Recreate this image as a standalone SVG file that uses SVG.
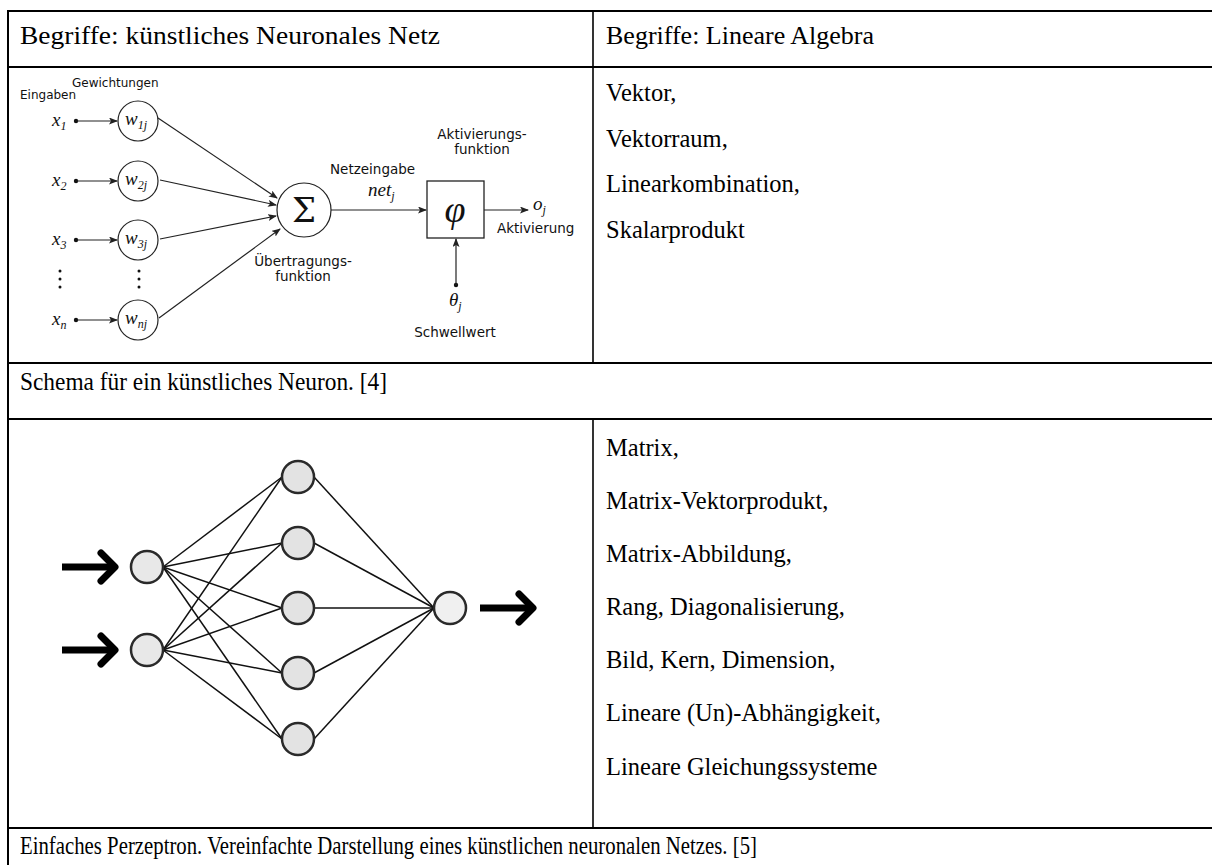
<svg xmlns="http://www.w3.org/2000/svg" width="1212" height="865" viewBox="0 0 1212 865">
<style>
.tbl{stroke:#000;stroke-width:2;fill:none}
.div{stroke:#000;stroke-width:1.6;fill:none}
.t{font-family:"Liberation Serif","Times New Roman",serif;font-size:24.5px;fill:#000}
.h{font-family:"Liberation Serif","Times New Roman",serif;font-size:26px;fill:#000}
.lbl{font-family:"DejaVu Sans",sans-serif;font-size:13.5px;fill:#111}
.lbs{font-family:"DejaVu Sans",sans-serif;font-size:12px;fill:#111}
.m{font-family:"Liberation Serif","Times New Roman",serif;font-style:italic;font-size:19px;fill:#111}
.sub{font-size:12px}
.ln{stroke:#222;stroke-width:1.2;fill:none}
.nl{stroke:#111;stroke-width:1.5;fill:none}
.node{stroke:#2a2a2a;stroke-width:2.5}
.big{stroke:#000;stroke-width:7;fill:none}
</style>
<defs>
<marker id="ah" markerWidth="9" markerHeight="7" refX="8" refY="3.5" orient="auto" markerUnits="userSpaceOnUse">
<path d="M0,0 L9,3.5 L0,7 L2,3.5 z" fill="#222"/>
</marker>
</defs>
<rect width="1212" height="865" fill="#fff"/>

<g id="table">
<line class="tbl" x1="8" y1="11" x2="1212" y2="11"/>
<line class="tbl" x1="8" y1="67" x2="1212" y2="67"/>
<line class="tbl" x1="8" y1="363" x2="1212" y2="363"/>
<line class="tbl" x1="8" y1="419" x2="1212" y2="419"/>
<line class="tbl" x1="8" y1="828" x2="1212" y2="828"/>
<line class="tbl" x1="8" y1="10" x2="8" y2="865"/>
<line class="div" x1="593" y1="11" x2="593" y2="363"/>
<line class="div" x1="593" y1="419" x2="593" y2="828"/>
</g>

<g id="header-left"><text class="h" x="20" y="44" textLength="420" lengthAdjust="spacingAndGlyphs">Begriffe: künstliches Neuronales Netz</text></g>
<g id="header-right"><text class="h" x="606" y="44">Begriffe: Lineare Algebra</text></g>

<g id="terms-1">
<text class="t" x="606" y="101">Vektor,</text>
<text class="t" x="606" y="146.5">Vektorraum,</text>
<text class="t" x="606" y="192">Linearkombination,</text>
<text class="t" x="606" y="237.5">Skalarprodukt</text>
</g>

<g id="caption-1"><text class="t" x="20" y="390" textLength="367" lengthAdjust="spacingAndGlyphs">Schema für ein künstliches Neuron. [4]</text></g>

<g id="terms-2">
<text class="t" x="606" y="456">Matrix,</text>
<text class="t" x="606" y="509">Matrix-Vektorprodukt,</text>
<text class="t" x="606" y="562">Matrix-Abbildung,</text>
<text class="t" x="606" y="615">Rang, Diagonalisierung,</text>
<text class="t" x="606" y="668">Bild, Kern, Dimension,</text>
<text class="t" x="606" y="721">Lineare (Un)-Abhängigkeit,</text>
<text class="t" x="606" y="775">Lineare Gleichungssysteme</text>
</g>

<g id="caption-2"><text class="t" x="20" y="854" textLength="737" lengthAdjust="spacingAndGlyphs">Einfaches Perzeptron. Vereinfachte Darstellung eines künstlichen neuronalen Netzes. [5]</text></g>

<g id="neuron-labels">
<text class="lbs" x="72" y="87">Gewichtungen</text>
<text class="lbs" x="20" y="99">Eingaben</text>
<text class="lbl" x="330" y="174">Netzeingabe</text>
<text class="lbl" x="482" y="139" text-anchor="middle">Aktivierungs-</text>
<text class="lbl" x="482" y="153.5" text-anchor="middle">funktion</text>
<text class="lbl" x="497" y="233">Aktivierung</text>
<text class="lbl" x="303" y="266" text-anchor="middle">Übertragungs-</text>
<text class="lbl" x="303" y="280.5" text-anchor="middle">funktion</text>
<text class="lbl" x="455" y="337" text-anchor="middle">Schwellwert</text>
</g>

<g id="inputs">
<text class="m" x="52" y="126">x<tspan class="sub" dy="4">1</tspan></text>
<text class="m" x="52" y="186">x<tspan class="sub" dy="4">2</tspan></text>
<text class="m" x="52" y="245">x<tspan class="sub" dy="4">3</tspan></text>
<text class="m" x="52" y="325">x<tspan class="sub" dy="4">n</tspan></text>
<circle cx="76" cy="121" r="2.2" fill="#111"/>
<circle cx="76" cy="181" r="2.2" fill="#111"/>
<circle cx="76" cy="240" r="2.2" fill="#111"/>
<circle cx="76" cy="320" r="2.2" fill="#111"/>
<circle cx="60" cy="271" r="1.5" fill="#111"/>
<circle cx="60" cy="279" r="1.5" fill="#111"/>
<circle cx="60" cy="287" r="1.5" fill="#111"/>
<circle cx="139" cy="271" r="1.5" fill="#111"/>
<circle cx="139" cy="279" r="1.5" fill="#111"/>
<circle cx="139" cy="287" r="1.5" fill="#111"/>
</g>

<g id="weights">
<circle cx="138" cy="121" r="20" fill="#fff" stroke="#222" stroke-width="1.2"/>
<circle cx="138" cy="181" r="20" fill="#fff" stroke="#222" stroke-width="1.2"/>
<circle cx="138" cy="240" r="20" fill="#fff" stroke="#222" stroke-width="1.2"/>
<circle cx="138" cy="320" r="20" fill="#fff" stroke="#222" stroke-width="1.2"/>
<text class="m" x="125" y="125">w<tspan class="sub" dy="4">1j</tspan></text>
<text class="m" x="125" y="185">w<tspan class="sub" dy="4">2j</tspan></text>
<text class="m" x="125" y="244">w<tspan class="sub" dy="4">3j</tspan></text>
<text class="m" x="125" y="324">w<tspan class="sub" dy="4">nj</tspan></text>
</g>

<g id="sum">
<circle cx="304" cy="210" r="27" fill="#fff" stroke="#222" stroke-width="1.2"/>
<text x="304" y="222" text-anchor="middle" font-family="DejaVu Serif,serif" font-size="34" fill="#111">Σ</text>
<text class="m" x="368" y="196">net<tspan class="sub" dy="4">j</tspan></text>
</g>

<g id="activation">
<rect x="427" y="181" width="57" height="57" fill="#fff" stroke="#222" stroke-width="1.3"/>
<text x="455" y="222" text-anchor="middle" font-family="Liberation Serif,serif" font-style="italic" font-size="38" fill="#111">φ</text>
<text class="m" x="533" y="210">o<tspan class="sub" dy="4">j</tspan></text>
</g>

<g id="threshold">
<circle cx="456" cy="285" r="2.2" fill="#111"/>
<text class="m" x="449" y="306">θ<tspan class="sub" dy="4">j</tspan></text>
</g>

<g id="connectors">
<line class="ln" x1="77" y1="121" x2="117" y2="121" marker-end="url(#ah)"/>
<line class="ln" x1="77" y1="181" x2="117" y2="181" marker-end="url(#ah)"/>
<line class="ln" x1="77" y1="240" x2="117" y2="240" marker-end="url(#ah)"/>
<line class="ln" x1="77" y1="320" x2="117" y2="320" marker-end="url(#ah)"/>
<line class="ln" x1="158" y1="118" x2="277" y2="198" marker-end="url(#ah)"/>
<line class="ln" x1="160" y1="180" x2="276" y2="205" marker-end="url(#ah)"/>
<line class="ln" x1="160" y1="239" x2="276" y2="216" marker-end="url(#ah)"/>
<line class="ln" x1="159" y1="318" x2="280" y2="229" marker-end="url(#ah)"/>
<line class="ln" x1="331" y1="210" x2="426" y2="210" marker-end="url(#ah)"/>
<line class="ln" x1="484" y1="210" x2="528" y2="210" marker-end="url(#ah)"/>
<line class="ln" x1="456" y1="285" x2="456" y2="239" marker-end="url(#ah)"/>

<g class="nl">
<line x1="163" y1="567" x2="282" y2="477"/>
<line x1="163" y1="567" x2="282" y2="543"/>
<line x1="163" y1="567" x2="282" y2="608"/>
<line x1="163" y1="567" x2="282" y2="673"/>
<line x1="163" y1="567" x2="282" y2="739"/>
<line x1="163" y1="650" x2="282" y2="477"/>
<line x1="163" y1="650" x2="282" y2="543"/>
<line x1="163" y1="650" x2="282" y2="608"/>
<line x1="163" y1="650" x2="282" y2="673"/>
<line x1="163" y1="650" x2="282" y2="739"/>
<line x1="314" y1="477" x2="434" y2="608"/>
<line x1="314" y1="543" x2="434" y2="608"/>
<line x1="314" y1="608" x2="434" y2="608"/>
<line x1="314" y1="673" x2="434" y2="608"/>
<line x1="314" y1="739" x2="434" y2="608"/>
</g>
<g class="big">
<line x1="62" y1="567" x2="112" y2="567"/>
<polyline points="101,553 115,567 101,581" stroke-linejoin="round" stroke-linecap="round"/>
<line x1="62" y1="650" x2="112" y2="650"/>
<polyline points="101,636 115,650 101,664" stroke-linejoin="round" stroke-linecap="round"/>
<line x1="480" y1="608" x2="530" y2="608"/>
<polyline points="519,594 533,608 519,622" stroke-linejoin="round" stroke-linecap="round"/>
</g>
</g>

<g id="perceptron-input-1"><circle class="node" cx="147" cy="567" r="16" fill="#e8e8e8"/></g>
<g id="perceptron-input-2"><circle class="node" cx="147" cy="650" r="16" fill="#e8e8e8"/></g>
<g id="perceptron-hidden-1"><circle class="node" cx="298" cy="477" r="16" fill="#e3e3e3"/></g>
<g id="perceptron-hidden-2"><circle class="node" cx="298" cy="543" r="16" fill="#e3e3e3"/></g>
<g id="perceptron-hidden-3"><circle class="node" cx="298" cy="608" r="16" fill="#e3e3e3"/></g>
<g id="perceptron-hidden-4"><circle class="node" cx="298" cy="673" r="16" fill="#e3e3e3"/></g>
<g id="perceptron-hidden-5"><circle class="node" cx="298" cy="739" r="16" fill="#e3e3e3"/></g>
<g id="perceptron-output"><circle class="node" cx="450" cy="608" r="16" fill="#f0f0f0"/></g>
</svg>
